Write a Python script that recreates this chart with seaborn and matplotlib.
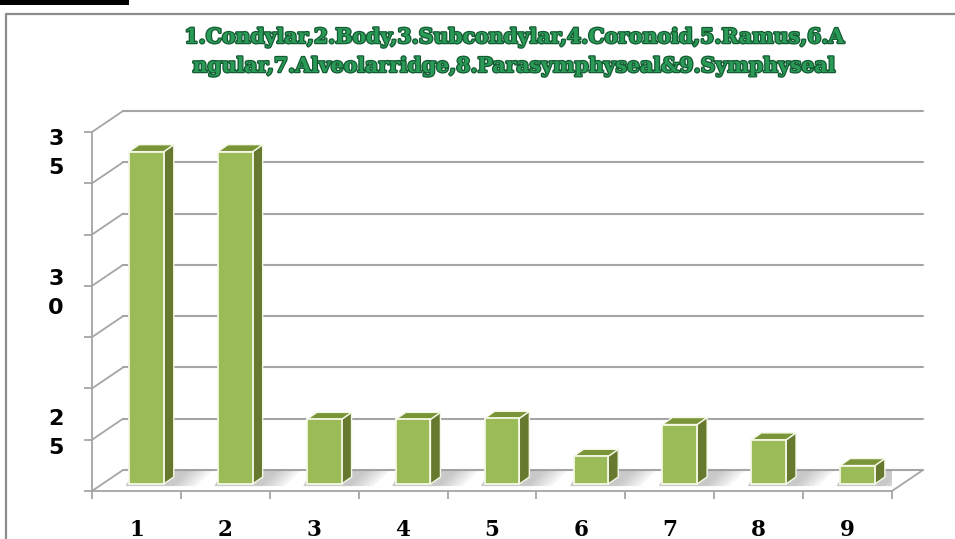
import matplotlib
matplotlib.use("Agg")
import matplotlib.pyplot as plt
import matplotlib.patheffects as pe
from matplotlib.patches import Polygon, Rectangle
from matplotlib.lines import Line2D
from matplotlib.transforms import ScaledTranslation
import seaborn as sns
import pandas as pd

# ---------------- data ----------------
categories = ["1", "2", "3", "4", "5", "6", "7", "8", "9"]
counts = [32.4, 32.4, 6.3, 6.3, 6.4, 2.7, 5.8, 4.3, 1.8]
grid_values = [0, 5, 10, 15, 20, 25, 30, 35]
ytick_labels = ["3\n5", "3\n0", "2\n5"]
ytick_label_pos = [33.5, 19.9, 6.2]
title_lines = ["1.Condylar,2.Body,3.Subcondylar,4.Coronoid,5.Ramus,6.A",
               "ngular,7.Alveolarridge,8.Parasymphyseal&9.Symphyseal"]

# ---------------- style ----------------
sns.set_theme(style="white")
plt.rcParams['font.family'] = ['DejaVu Sans']

W, H = 955, 539
DPI = 100
fig = plt.figure(figsize=(W / DPI, H / DPI), dpi=DPI)
fig.patch.set_facecolor("white")

# front plane of the floor (pixels)
L, R, B, T = 92, 892, 491, 132
ax = fig.add_axes([L / W, 1 - B / H, (R - L) / W, (B - T) / H])
ax.set_facecolor("none")

df = pd.DataFrame({"region": categories, "count": counts})
sns.barplot(data=df, x="region", y="count", color="#9BBB59", saturation=1,
            width=0.39, edgecolor="#F4F8E6", linewidth=1.3, ax=ax, zorder=6)

ax.set_xlim(-0.5, len(categories) - 0.5)
ax.set_ylim(0, grid_values[-1])

px_x = (R - L) / len(categories)           # pixels per category unit
px_y = (B - T) / grid_values[-1]           # pixels per value unit

grid_col = "#A5A5A5"
# back wall offset
bx, by = 31 / px_x, 21 / px_y
x0, x1 = -0.5, len(categories) - 0.5
for v in grid_values:
    ax.add_line(Line2D([x0 + bx, x1 + bx], [v + by, v + by], color=grid_col,
                       lw=1.5, zorder=1, clip_on=False))
    ax.add_line(Line2D([x0, x0 + bx], [v, v + by], color=grid_col,
                       lw=1.3, zorder=1, clip_on=False))
# floor right edge
ax.add_line(Line2D([x1, x1 + bx], [0, by], color=grid_col, lw=1.3, zorder=1, clip_on=False))

# bars: move into their depth plane and add side / top faces
off_bar = ScaledTranslation(10 / DPI, 7 / DPI, fig.dpi_scale_trans)
dx, dy = 10 / px_x, 7 / px_y
side_col, top_col = "#66792F", "#7A9438"
edge_col = "#F4F8E6"
for p in list(ax.patches):
    p.set_transform(ax.transData + off_bar)
    x, w, h = p.get_x(), p.get_width(), p.get_height()
    tr = ax.transData + off_bar
    # soft shadow on the floor (darker close to the bar)
    for k in range(6):
        ext = 0.36 - k * 0.05
        sh = Polygon([(x - 0.04, -0.2), (x + w + ext, -0.2),
                      (x + w + ext + dx * 1.6, dy * 1.9), (x + dx * 0.5, dy * 1.9)],
                     closed=True, facecolor="#7A7A7A", edgecolor="none", alpha=0.08,
                     transform=tr, zorder=2)
        ax.add_patch(sh)
    side = Polygon([(x + w, 0), (x + w + dx, dy), (x + w + dx, h + dy), (x + w, h)],
                   closed=True, facecolor=side_col, edgecolor=edge_col, lw=1.0,
                   transform=tr, zorder=5)
    top = Polygon([(x, h), (x + w, h), (x + w + dx, h + dy), (x + dx, h + dy)],
                  closed=True, facecolor=top_col, edgecolor=edge_col, lw=1.0,
                  transform=tr, zorder=5)
    ax.add_patch(side)
    ax.add_patch(top)

# spines
for s in ["top", "right"]:
    ax.spines[s].set_visible(False)
for s in ["left", "bottom"]:
    ax.spines[s].set_visible(True)
    ax.spines[s].set_color(grid_col)
    ax.spines[s].set_linewidth(1.3)
    ax.spines[s].set_zorder(3)

# y ticks: marks at grid values, labels at their own positions
ax.set_yticks(grid_values)
ax.set_yticklabels([""] * len(grid_values))
ax.set_yticks(ytick_label_pos, minor=True)
ax.set_yticklabels(ytick_labels, minor=True, fontsize=16, fontweight="bold",
                   color="black", linespacing=1.55, ha="center")
ax.tick_params(axis="y", which="major", length=6, width=1.3, color=grid_col, left=True)
ax.tick_params(axis="y", which="minor", length=0, pad=26)

# x ticks: labels at category centers, marks at boundaries
ax.set_xticks(range(len(categories)))
ax.set_xticklabels(categories, fontsize=15.5, fontweight="bold",
                   family="DejaVu Serif", color="black")
ax.set_xticks([i - 0.5 for i in range(len(categories) + 1)], minor=True)
ax.tick_params(axis="x", which="major", length=0, pad=20)
ax.tick_params(axis="x", which="minor", length=6, width=1.3, color=grid_col, bottom=True)
ax.set_xlabel("")
ax.set_ylabel("")
ax.grid(False)

# title
for i, line in enumerate(title_lines):
    fig.text(514 / W, 1 - (37 + 29 * i) / H, line, ha="center", va="center",
             fontsize=14.7, fontweight="bold", family="DejaVu Serif", color="#2A9A57",
             path_effects=[pe.withStroke(linewidth=1.8, foreground="#145A32")])

# chart border & black bar at top left
fig.add_artist(Line2D([6 / W, 1], [1 - 14 / H, 1 - 14 / H], color="#8C8C8C", lw=1.6,
                      transform=fig.transFigure))
fig.add_artist(Line2D([6 / W, 6 / W], [0, 1 - 14 / H], color="#8C8C8C", lw=1.6,
                      transform=fig.transFigure))
fig.add_artist(Rectangle((0, 1 - 5 / H), 129 / W, 5 / H, facecolor="black",
                         edgecolor="none", transform=fig.transFigure))

fig.savefig("out.png", dpi=DPI, facecolor="white")
